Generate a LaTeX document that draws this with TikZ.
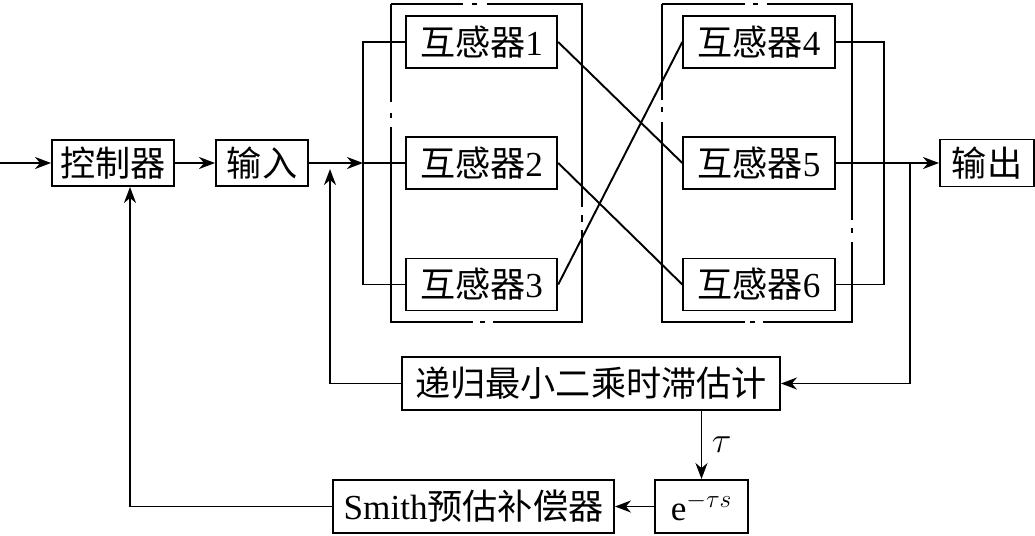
\documentclass[tikz,border=0pt]{standalone}
\usepackage{fontspec}
\setmainfont{Liberation Serif}
\newfontfamily\cjk{Noto Sans CJK SC}
\usetikzlibrary{arrows.meta}

\begin{document}
\begin{tikzpicture}[x=0.02cm, y=-0.02cm, line width=1.1pt,
        >={Stealth[length=0.32cm, width=0.24cm, inset=0.1cm]},
        blk/.style={draw, inner sep=0pt, font=\fontsize{20}{24}\selectfont},
        sensor/.style={blk, minimum width=3.03cm, minimum height=1.04cm}]
    \useasboundingbox (0,0) rectangle (1035,535);

    % upper row
    \node[blk, minimum width=2.44cm, minimum height=0.92cm] (ctrl) at (113,163) {\cjk 控制器};
    \node[blk, minimum width=1.84cm, minimum height=0.92cm] (inp) at (262,163) {\cjk 输入};
    \node[blk, minimum width=1.88cm, minimum height=0.94cm] (out) at (987,163) {\cjk 输出};

    % mutual inductors
    \node[sensor] (m1) at (481.5,42) {{\cjk 互感器}1};
    \node[sensor] (m2) at (481.5,163) {{\cjk 互感器}2};
    \node[sensor] (m3) at (481.5,284.5) {{\cjk 互感器}3};
    \node[sensor] (m4) at (759,42) {{\cjk 互感器}4};
    \node[sensor] (m5) at (759,163) {{\cjk 互感器}5};
    \node[sensor] (m6) at (759,284.5) {{\cjk 互感器}6};

    % lower row
    \node[blk, minimum width=7.56cm, minimum height=1.06cm] (rls) at (591,383.5) {\cjk 递归最小二乘时滞估计};
    \node[blk, minimum width=1.86cm, minimum height=1.06cm] (delay) at (701.5,506.5) {e$^{-\tau s}$};
    \node[blk, minimum width=5.62cm, minimum height=1.06cm] (smith) at (473.5,506.5) {Smith{\cjk 预估补偿器}};

    \coordinate (start) at (0,163);
    \coordinate (inbus) at (363,163);
    \coordinate (outbus) at (884,163);
    \coordinate (tap) at (910,163);
    \coordinate (fbtip) at (330,169);

    % dash-dot frames
    \draw (391,4) -- (463,4) (472,4) -- (477,4) (487,4) -- (582,4) -- (582,207)
          (582,215) -- (582,222) (582,230) -- (582,322) -- (493,322)
          (485,322) -- (480,322) (473,322) -- (391,322) -- (391,127)
          (391,118) -- (391,113) (391,102) -- (391,4);
    \draw (662,4) -- (745,4) (753,4) -- (758,4) (767,4) -- (852,4) -- (852,220)
          (852,228) -- (852,233) (852,242) -- (852,322) -- (763,322)
          (755,322) -- (750,322) (745,322) -- (662,322) -- (662,122)
          (662,112) -- (662,107) (662,100) -- (662,4);

    % connections
    \draw[->] (start) -- (ctrl.west);
    \draw[->] (ctrl.east) -- (inp.west);
    \draw[->] (inp.east) -- (inbus);
    \draw (m1.west) -| (inbus) |- (m3.west);
    \draw (inbus) -- (m2.west);
    \draw (m1.east) -- (m5.west);
    \draw (m2.east) -- (m6.west);
    \draw (m3.east) -- (m4.west);
    \draw (m4.east) -| (outbus) |- (m6.east);
    \draw[->] (m5.east) -- (out.west);
    \draw[->] (tap) |- (rls.east);
    \draw[->] (rls.west) -| (fbtip);
    \draw[->] (delay.north |- rls.south) -- (delay.north) node[midway, right=2pt, font=\fontsize{20}{24}\selectfont] {$\tau$};
    \draw[->] (delay.west) -- (smith.east);
    \draw[->] (smith.west) -| ([xshift=0.34cm]ctrl.south);
\end{tikzpicture}
\end{document}
